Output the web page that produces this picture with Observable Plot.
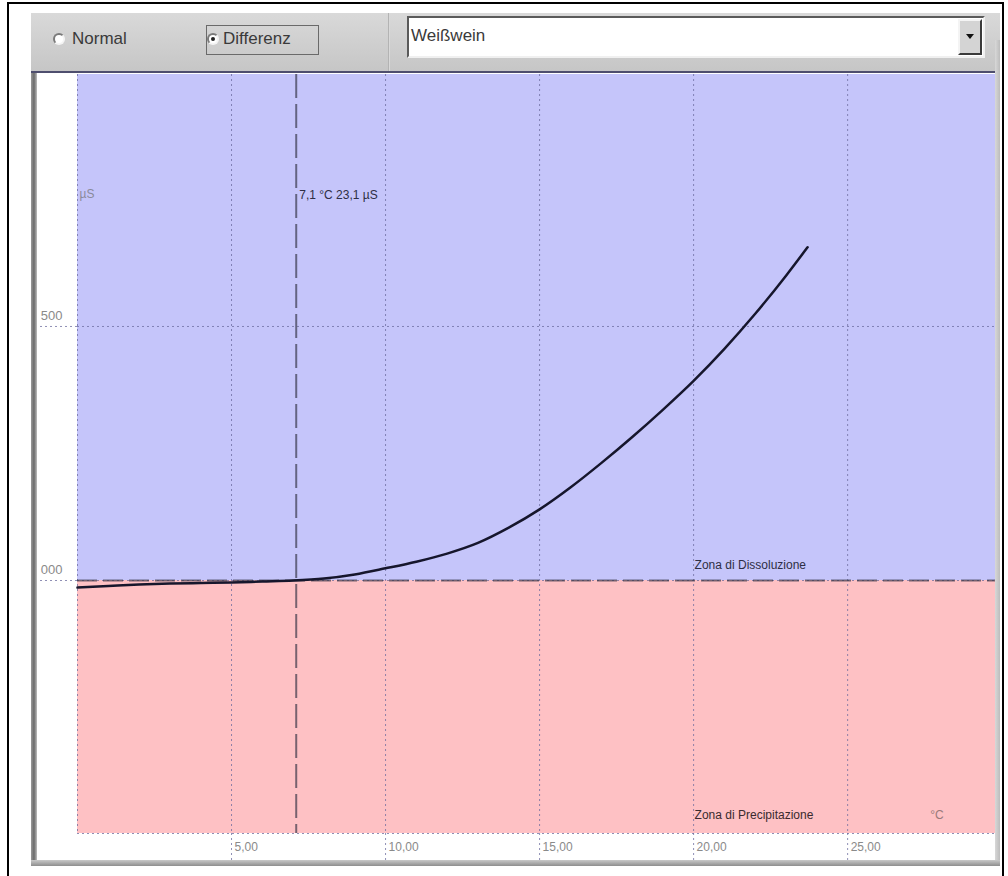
<!DOCTYPE html>
<html>
<head>
<meta charset="utf-8">
<script src="https://cdn.jsdelivr.net/npm/d3@7"></script>
<script src="https://cdn.jsdelivr.net/npm/@observablehq/plot@0.6"></script>
<style>
  html, body { margin: 0; padding: 0; background: #fff; width: 1008px; height: 876px; overflow: hidden; font-family: "Liberation Sans", Arial, sans-serif; }
  .abs { position: absolute; box-sizing: border-box; }
  #outer { left: 7px; top: 2px; width: 997px; height: 900px; border: 2px solid #000; }
  #win { left: 31px; top: 13px; width: 969px; height: 853px; background: #cfcfcf; }
  #header { left: 31px; top: 13px; width: 969px; height: 58px; background: linear-gradient(#d9d9d9, #c6c6c6); }
  #sep { left: 31px; top: 71px; width: 964px; height: 2px; background: #4e4e6e; }
  #leftbar { left: 31px; top: 73px; width: 6px; height: 793px; background: linear-gradient(90deg, #9a9a9a, #6a6a6a, #bdbdbd); }
  #rightbar { left: 995px; top: 40px; width: 5px; height: 826px; background: linear-gradient(90deg, #d8d8d8, #bcbcbc); }
  #bottombar { left: 31px; top: 860px; width: 969px; height: 6px; background: linear-gradient(#c9c9c9, #8e8e8e); }
  #plotbox { left: 37px; top: 73px; width: 958px; height: 787px; background: #fff; }
  .radio { width: 12px; height: 12px; border-radius: 50%; background: #fff; border: 2px solid; border-color: #7a7a7a #f4f4f4 #f4f4f4 #7a7a7a; }
  .dot { width: 4px; height: 4px; border-radius: 50%; background: #222; left: 2px; top: 2px; }
  .lbl { font-size: 17px; color: #3a3a3a; white-space: nowrap; }
  #focus { left: 206px; top: 25px; width: 113px; height: 30px; border: 1px solid #6a6a6a; }
  #vsep { left: 388px; top: 13px; width: 2px; height: 58px; background: linear-gradient(90deg, #a0a0a0, #ececec); }
  #combo { left: 407px; top: 16px; width: 578px; height: 42px; background: #fff; border: 2px solid; border-color: #5a5a5a #f0f0f0 #f0f0f0 #5a5a5a; }
  #btn { left: 958px; top: 19px; width: 24px; height: 36px; background: #d4d4d4; border: 2px solid; border-color: #f4f4f4 #3a3a3a #3a3a3a #f4f4f4; }
  #arrow { left: 6px; top: 13px; width: 0; height: 0; border-left: 4px solid transparent; border-right: 4px solid transparent; border-top: 5px solid #111; }
</style>
</head>
<body>
<div id="outer" class="abs"></div>
<div id="win" class="abs"></div>
<div id="header" class="abs"></div>
<div id="vsep" class="abs"></div>
<div class="abs radio" style="left:53px;top:33px;"></div>
<div class="abs lbl" style="left:72px;top:29px;">Normal</div>
<div class="abs radio" style="left:207px;top:33px;"><div class="abs dot"></div></div>
<div id="focus" class="abs"></div>
<div class="abs lbl" style="left:223px;top:29px;">Differenz</div>
<div id="combo" class="abs"><div class="abs lbl" style="left:2px;top:8px;">Weißwein</div></div>
<div id="btn" class="abs"><div id="arrow" class="abs"></div></div>
<div id="sep" class="abs"></div>
<div id="leftbar" class="abs"></div>
<div id="rightbar" class="abs"></div>
<div id="bottombar" class="abs"></div>
<div id="plotbox" class="abs"></div>
<script>
// ---- data ----
const temperature = [0, 1, 2, 3, 4, 5, 6, 7, 8, 9, 10, 11, 12, 13, 14, 15, 16, 17, 18, 19, 20, 21, 22, 23, 23.7];
const conductivityDiff = [-14, -11, -8, -6, -5, -4, -2, 0, 4, 12, 24, 37, 53, 74, 104, 140, 183, 231, 282, 336, 393, 456, 525, 600, 656];
const xDomain = [0, 29.8];
const yDomain = [-498, 996];
const xTicks = [5, 10, 15, 20, 25];
const xTickLabels = ["5,00", "10,00", "15,00", "20,00", "25,00"];
const yTicks = [0, 500];
const yTickLabels = ["000", "500"];
const zoneNames = ["Zona di Dissoluzione", "Zona di Precipitazione"];
const zoneColors = ["#c5c5fa", "#fec1c4"];
const markerTemp = 7.1;
const markerLabel = "7,1 °C 23,1 µS";
const yUnit = "µS";
const xUnit = "°C";
const zoneLabelTemp = 20;

// ---- build ----
const curve = temperature.map((t, i) => ({t, v: conductivityDiff[i]}));
const zones = [
  {name: zoneNames[0], y1: 0, y2: yDomain[1], color: zoneColors[0]},
  {name: zoneNames[1], y1: yDomain[0], y2: 0, color: zoneColors[1]}
];
const xTickData = xTicks.map((v, i) => ({v, label: xTickLabels[i]}));
const yTickData = yTicks.map((v, i) => ({v, label: yTickLabels[i]}));
const gridColor = "#6a6a9c";
const font = "'Liberation Sans Narrow', 'Liberation Sans', Arial, sans-serif";

const chart = Plot.plot({
  width: 958,
  height: 787,
  marginLeft: 40,
  marginRight: 0,
  marginTop: 1,
  marginBottom: 27,
  style: {background: "transparent", fontFamily: font, fontSize: "12px", overflow: "visible"},
  x: {domain: xDomain, axis: null},
  y: {domain: yDomain, axis: null},
  marks: [
    Plot.rect(zones, {x1: xDomain[0], x2: xDomain[1], y1: "y1", y2: "y2", fill: "color"}),
    // dotted grid
    Plot.ruleX([xDomain[0], ...xTicks], {stroke: gridColor, strokeOpacity: 0.75, strokeDasharray: "2,3"}),
    Plot.ruleY([yDomain[0], ...yTicks], {stroke: gridColor, strokeOpacity: 0.75, strokeDasharray: "2,3"}),
    Plot.axisX({ticks: xTicks, tickSize: 27, tickFormat: () => "", stroke: gridColor, strokeOpacity: 0.75, strokeDasharray: "2,3"}),
    Plot.axisY({ticks: yTicks, tickSize: 40, tickFormat: () => "", stroke: gridColor, strokeOpacity: 0.75, strokeDasharray: "2,3"}),
    // tick labels
    Plot.text(xTickData, {x: "v", text: "label", frameAnchor: "bottom", dy: 17, dx: 3, textAnchor: "start", fill: "#8a8a8a", fontSize: 12}),
    Plot.text(yTickData, {y: "v", text: "label", frameAnchor: "left", dx: -15, dy: -11, textAnchor: "end", fill: "#8a8a8a", fontSize: 13}),
    // units
    Plot.text([yUnit], {frameAnchor: "top-left", dx: 2, dy: 115, textAnchor: "start", fill: "#8a8a9a", fontSize: 12}),
    Plot.text([xUnit], {x: 27.9, frameAnchor: "bottom", dy: -15, fill: "#9a7a7a", fontSize: 12}),
    // zone boundary and marker
    Plot.ruleY([0], {stroke: "#303040", strokeOpacity: 0.65, strokeWidth: 2, strokeDasharray: "20,6"}),
    Plot.ruleX([markerTemp], {stroke: "#303040", strokeOpacity: 0.65, strokeWidth: 2, strokeDasharray: "24,6"}),
    Plot.text([markerLabel], {x: markerTemp, frameAnchor: "top", dy: 116, dx: 3, textAnchor: "start", fill: "#2e2e44", fontSize: 12}),
    // zone labels
    Plot.text([zones[0]], {x: zoneLabelTemp, y: 0, text: "name", dy: -15, dx: 1, textAnchor: "start", fill: "#2e2e44", fontSize: 12}),
    Plot.text([zones[1]], {x: zoneLabelTemp, text: "name", frameAnchor: "bottom", dy: -15, dx: 1, textAnchor: "start", fill: "#3a2a2e", fontSize: 12}),
    // curve
    Plot.line(curve, {x: "t", y: "v", stroke: "#16162c", strokeWidth: 2.5, curve: "monotone-x"})
  ]
});
chart.style.position = "absolute";
chart.style.left = "37px";
chart.style.top = "73px";
document.body.appendChild(chart);
</script>
</body>
</html>
